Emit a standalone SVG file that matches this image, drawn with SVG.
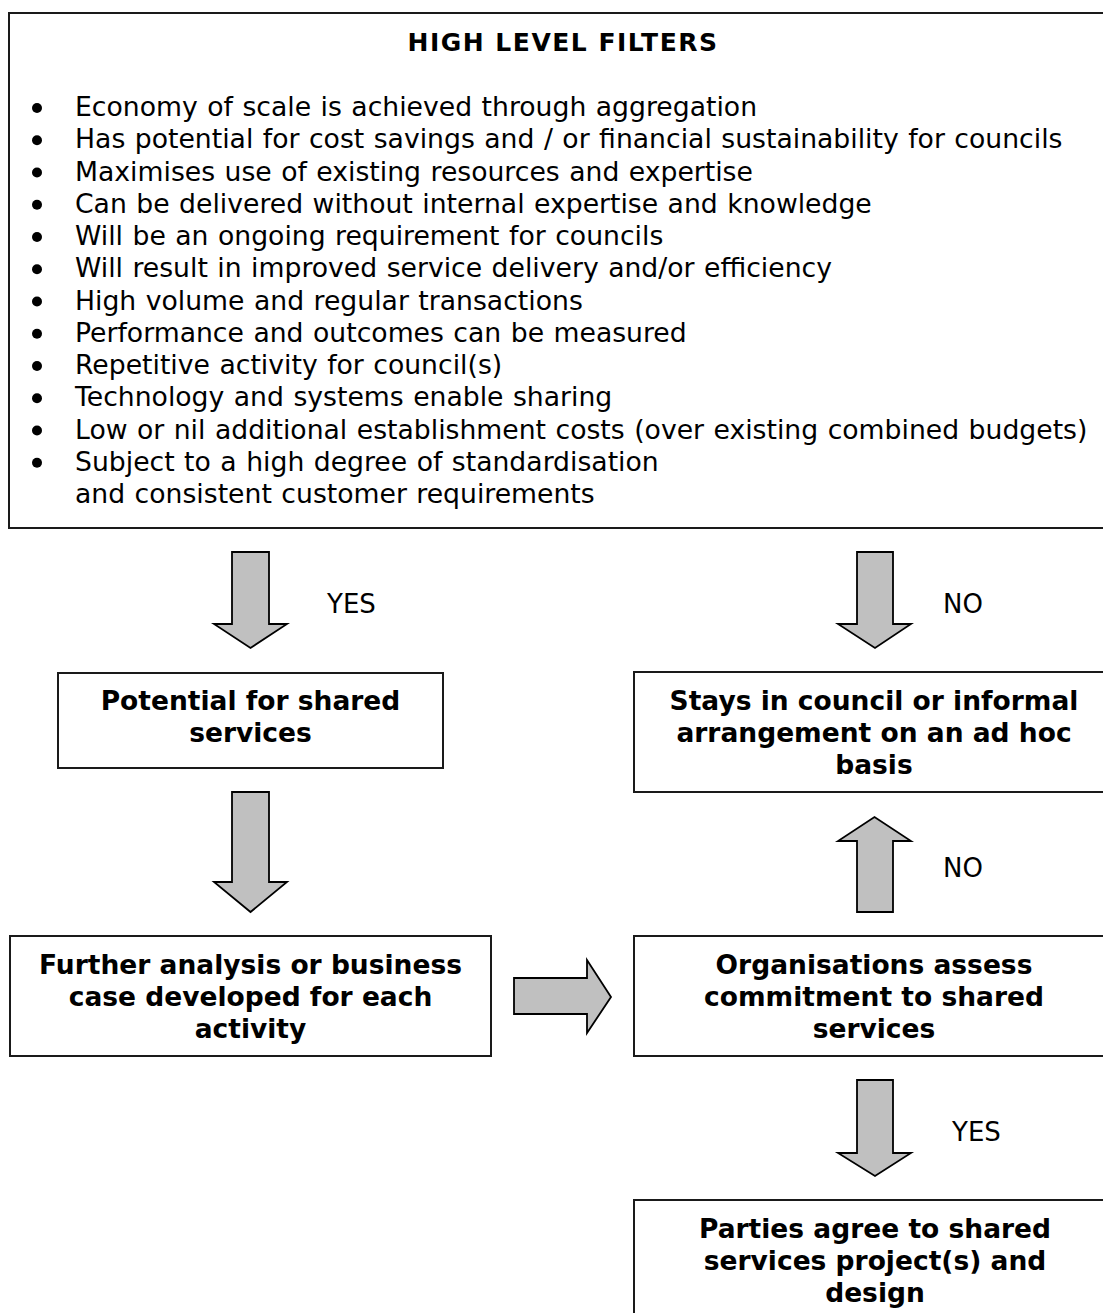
<svg xmlns="http://www.w3.org/2000/svg" width="1103" height="1313" viewBox="0 0 1103 1313">
<style>
.box{fill:#fff;stroke:#1a1a1a;stroke-width:2}
.arrow{fill:#c0c0c0;stroke:#000;stroke-width:1.8;stroke-linejoin:miter}
.t{font-family:"DejaVu Sans",Verdana,sans-serif;font-size:26.67px;fill:#000;word-spacing:1px}
.b{font-family:"DejaVu Sans",Verdana,sans-serif;font-size:26.5px;font-weight:bold;fill:#000;text-anchor:middle}
.h{font-family:"DejaVu Sans",Verdana,sans-serif;font-size:25px;font-weight:bold;fill:#000;text-anchor:middle;letter-spacing:1.5px}
.lbl{font-family:"DejaVu Sans",Verdana,sans-serif;font-size:26px;fill:#000}
.dot{fill:#000}
</style>
<rect width="1103" height="1313" fill="#fff"/>
<g id="filters">
<rect class="box" x="9" y="13" width="1107" height="515"/>
<text class="h" x="563" y="51">HIGH LEVEL FILTERS</text>
<g class="dot">
<circle cx="37" cy="108" r="5"/>
<circle cx="37" cy="140.25" r="5"/>
<circle cx="37" cy="172.5" r="5"/>
<circle cx="37" cy="204.75" r="5"/>
<circle cx="37" cy="237" r="5"/>
<circle cx="37" cy="269.25" r="5"/>
<circle cx="37" cy="301.5" r="5"/>
<circle cx="37" cy="333.75" r="5"/>
<circle cx="37" cy="366" r="5"/>
<circle cx="37" cy="398.25" r="5"/>
<circle cx="37" cy="430.5" r="5"/>
<circle cx="37" cy="462.75" r="5"/>
</g>
<g class="t">
<text x="75" y="116">Economy of scale is achieved through aggregation</text>
<text x="75" y="148.25">Has potential for cost savings and / or financial sustainability for councils</text>
<text x="75" y="180.5">Maximises use of existing resources and expertise</text>
<text x="75" y="212.75">Can be delivered without internal expertise and knowledge</text>
<text x="75" y="245">Will be an ongoing requirement for councils</text>
<text x="75" y="277.25">Will result in improved service delivery and/or efficiency</text>
<text x="75" y="309.5">High volume and regular transactions</text>
<text x="75" y="341.75">Performance and outcomes can be measured</text>
<text x="75" y="374">Repetitive activity for council(s)</text>
<text x="75" y="406.25">Technology and systems enable sharing</text>
<text x="75" y="438.5">Low or nil additional establishment costs (over existing combined budgets)</text>
<text x="75" y="470.75">Subject to a high degree of standardisation</text>
<text x="75" y="503">and consistent customer requirements</text>
</g>
</g>
<g id="potential">
<rect class="box" x="58" y="673" width="385" height="95"/>
<text class="b" x="250.5" y="710">Potential for shared</text>
<text class="b" x="250.5" y="742">services</text>
</g>
<g id="stays">
<rect class="box" x="634" y="672" width="482" height="120"/>
<text class="b" x="874" y="710">Stays in council or informal</text>
<text class="b" x="874" y="742">arrangement on an ad hoc</text>
<text class="b" x="874" y="774">basis</text>
</g>
<g id="further">
<rect class="box" x="10" y="936" width="481" height="120"/>
<text class="b" x="250.5" y="974">Further analysis or business</text>
<text class="b" x="250.5" y="1006">case developed for each</text>
<text class="b" x="250.5" y="1038">activity</text>
</g>
<g id="assess">
<rect class="box" x="634" y="936" width="482" height="120"/>
<text class="b" x="874" y="974">Organisations assess</text>
<text class="b" x="874" y="1006">commitment to shared</text>
<text class="b" x="874" y="1038">services</text>
</g>
<g id="agree">
<rect class="box" x="634" y="1200" width="482" height="140"/>
<text class="b" x="875" y="1238">Parties agree to shared</text>
<text class="b" x="875" y="1270">services project(s) and</text>
<text class="b" x="875" y="1302">design</text>
</g>
<g id="connectors">
<polygon class="arrow" points="232,552 269,552 269,624 287,624 250.5,648 214,624 232,624"/>
<text class="lbl" x="327" y="613">YES</text>
<polygon class="arrow" points="857,552 893,552 893,624 911,624 875,648 838,624 857,624"/>
<text class="lbl" x="943" y="613">NO</text>
<polygon class="arrow" points="232,792 269,792 269,882 287,882 250.5,912 214,882 232,882"/>
<polygon class="arrow" points="857,912 893,912 893,841 911,841 874.5,817 838,841 857,841"/>
<text class="lbl" x="943" y="877">NO</text>
<polygon class="arrow" points="514,978 587,978 587,960 611,997 587,1033 587,1014 514,1014"/>
<polygon class="arrow" points="857,1080 893,1080 893,1153 911,1153 875,1176 838,1153 857,1153"/>
<text class="lbl" x="952" y="1141">YES</text>
</g>
</svg>
